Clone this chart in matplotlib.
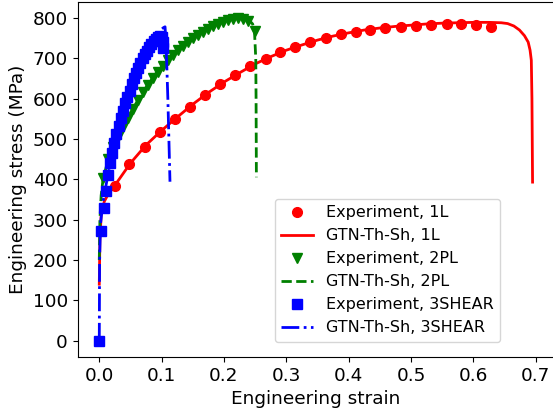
import matplotlib
matplotlib.use("Agg")
import matplotlib.pyplot as plt

# 1L specimen
exp_1l_strain = [0.025, 0.048, 0.073, 0.097, 0.121, 0.145, 0.170, 0.194, 0.218, 0.242,
                 0.267, 0.290, 0.314, 0.338, 0.363, 0.387, 0.411, 0.435, 0.459, 0.484,
                 0.508, 0.532, 0.557, 0.581, 0.605, 0.629]
exp_1l_stress = [383, 437, 481, 516, 549, 580, 610, 635, 658, 680,
                 698, 716, 729, 740, 750, 759, 765, 770, 775, 778,
                 781, 783, 785, 785, 783, 778]
gtn_1l_strain = [0.0, 0.001, 0.003, 0.008, 0.015, 0.025, 0.05, 0.075, 0.1, 0.125,
                 0.15, 0.175, 0.2, 0.225, 0.25, 0.275, 0.3, 0.325, 0.35, 0.375,
                 0.4, 0.425, 0.45, 0.475, 0.5, 0.525, 0.55, 0.575, 0.6, 0.625,
                 0.645, 0.655, 0.665, 0.674, 0.682, 0.688, 0.691, 0.693, 0.694, 0.695]
gtn_1l_stress = [140, 250, 310, 345, 365, 385, 440, 485, 521, 554,
                 586, 615, 641, 664, 686, 704, 720, 733, 745, 755,
                 763, 770, 775, 779, 782, 785, 787, 788, 789, 789,
                 788, 786, 780, 770, 756, 740, 720, 695, 600, 393]

# 2PL specimen
exp_2pl_strain = [0.006, 0.014, 0.022, 0.030, 0.038, 0.046, 0.054, 0.062, 0.070, 0.078,
                  0.086, 0.094, 0.102, 0.110, 0.118, 0.126, 0.134, 0.142, 0.150, 0.158,
                  0.166, 0.174, 0.182, 0.190, 0.198, 0.206, 0.214, 0.222, 0.230, 0.238,
                  0.249]
exp_2pl_stress = [404, 450, 480, 505, 530, 553, 575, 596, 616, 634,
                  651, 667, 682, 696, 708, 720, 731, 741, 750, 758,
                  766, 773, 780, 786, 791, 795, 798, 799, 798, 793,
                  768]
gtn_2pl_strain = [0.0, 0.001, 0.003, 0.006, 0.014, 0.03, 0.05, 0.07, 0.09, 0.11,
                  0.13, 0.15, 0.17, 0.19, 0.21, 0.22, 0.23, 0.24, 0.246, 0.249,
                  0.251, 0.2515, 0.252]
gtn_2pl_stress = [200, 300, 360, 400, 448, 507, 565, 617, 661, 697,
                  726, 751, 771, 787, 797, 800, 799, 795, 785, 765,
                  700, 600, 405]

# 3SHEAR specimen
exp_3s_strain = [0.0, 0.0025, 0.007, 0.011, 0.014, 0.017, 0.0205, 0.024, 0.0275, 0.031,
                 0.0345, 0.038, 0.0415, 0.045, 0.0485, 0.052, 0.0555, 0.059, 0.0625, 0.066,
                 0.0695, 0.073, 0.0765, 0.08, 0.0835, 0.087, 0.0905, 0.094, 0.0975, 0.1005,
                 0.102, 0.1025]
exp_3s_stress = [0, 272, 328, 372, 410, 440, 466, 490, 512, 532,
                 552, 570, 588, 604, 620, 636, 650, 664, 677, 689,
                 700, 710, 719, 728, 736, 743, 749, 753, 755, 752,
                 740, 726]
gtn_3s_strain = [0.0, 0.0005, 0.002, 0.006, 0.012, 0.02, 0.03, 0.04, 0.05, 0.06,
                 0.07, 0.08, 0.09, 0.097, 0.103, 0.1055, 0.107, 0.108, 0.110, 0.1134]
gtn_3s_stress = [0, 200, 290, 345, 395, 460, 535, 580, 620, 660,
                 700, 730, 755, 768, 776, 778, 740, 696, 600, 394]

fig = plt.figure(figsize=(5.53, 4.16), dpi=100)
ax = fig.add_axes([0.1403, 0.1423, 0.8622, 0.8534])

ax.plot(exp_1l_strain, exp_1l_stress, 'o', color='r', ms=7, label='Experiment, 1L')
ax.plot(gtn_1l_strain, gtn_1l_stress, '-', color='r', lw=2, label='GTN-Th-Sh, 1L')
ax.plot(exp_2pl_strain, exp_2pl_stress, 'v', color='g', ms=7, label='Experiment, 2PL')
ax.plot(gtn_2pl_strain, gtn_2pl_stress, '--', color='g', lw=2, label='GTN-Th-Sh, 2PL')
ax.plot(exp_3s_strain, exp_3s_stress, 's', color='b', ms=6.5, label='Experiment, 3SHEAR')
ax.plot(gtn_3s_strain, gtn_3s_stress, '-.', color='b', lw=2, label='GTN-Th-Sh, 3SHEAR')

ax.set_xlim(-0.0348, 0.730)
ax.set_ylim(-40, 840)
ax.set_xticks([0.0, 0.1, 0.2, 0.3, 0.4, 0.5, 0.6, 0.7])
ax.set_yticks(range(0, 900, 100))
ax.tick_params(axis='both', labelsize=13.3)
ax.set_xlabel('Engineering strain', fontsize=13.3)
ax.set_ylabel('Engineering stress (MPa)', fontsize=13.3)

ax.legend(loc='lower left', bbox_to_anchor=(0.414, 0.0425), borderaxespad=0,
          fontsize=11.5)

plt.savefig('out.png', dpi=100)
